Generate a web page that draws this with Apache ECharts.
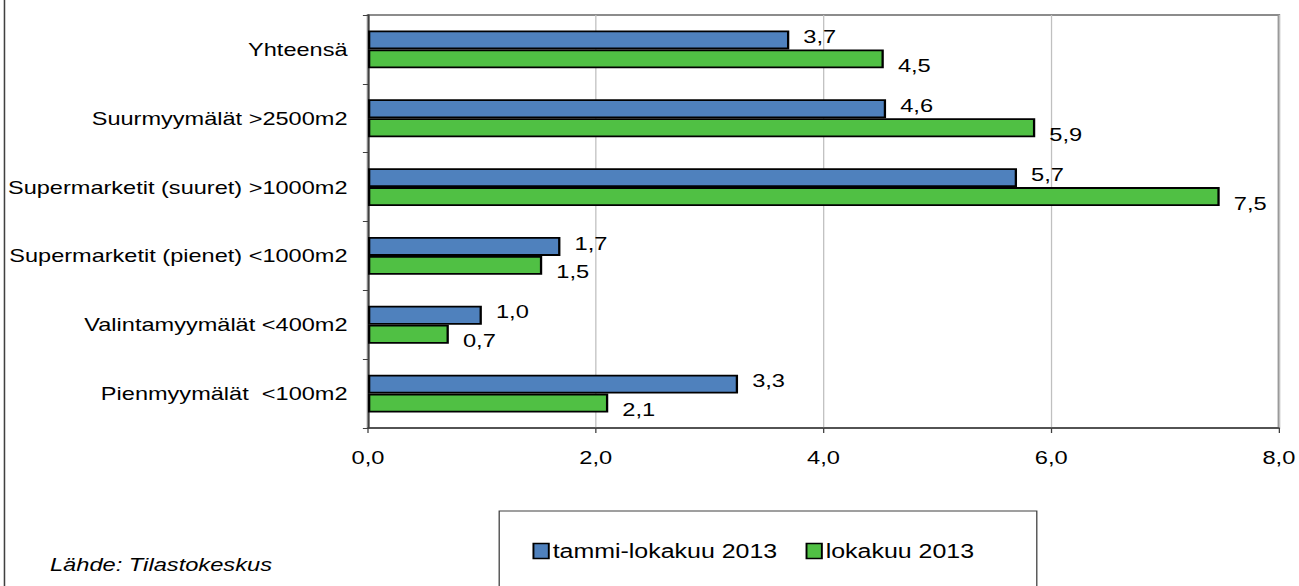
<!DOCTYPE html>
<html lang="fi">
<head>
<meta charset="UTF-8">
<title>Myymälät</title>
<style>
    html, body { margin: 0; padding: 0; background: #fff; overflow: hidden; }
    /* the source picture is stretched sideways, so the chart is drawn narrower and widened */
    #main {
        width: 1015px;
        height: 586px;
        transform: scaleX(1.28);
        transform-origin: 0 0;
    }
</style>
</head>
<body>
<div id="main"></div>
<script src="https://cdn.jsdelivr.net/npm/echarts@6/dist/echarts.min.js"></script>
<script>
    var categories = [
        'Yhteensä',
        'Suurmyymälät >2500m2',
        'Supermarketit (suuret) >1000m2',
        'Supermarketit (pienet) <1000m2',
        'Valintamyymälät <400m2',
        'Pienmyymälät  <100m2'
    ];
    var seriesNames = ['tammi-lokakuu 2013', 'lokakuu 2013'];
    var tammiLoka = [3.7, 4.55, 5.7, 1.69, 1.0, 3.25];
    var lokakuu = [4.53, 5.86, 7.48, 1.53, 0.71, 2.11];
    var xTicks = { min: 0, max: 8, interval: 2 };
    var source = 'Lähde: Tilastokeskus';

    var font = "'Liberation Sans', Arial, sans-serif";

    function fi(v) {
        return (Math.round(v * 10) / 10).toFixed(1).replace('.', ',');
    }

    function barSeries(name, values, color, offsetY) {
        return {
            name: name,
            type: 'bar',
            data: values,
            barGap: '0%',
            barCategoryGap: '45%',
            itemStyle: { color: color, borderColor: '#000', borderWidth: 1.8 },
            label: {
                show: true,
                position: 'right',
                distance: 11,
                offset: [0, offsetY],
                fontFamily: font,
                fontSize: 18.5,
                color: '#000',
                formatter: function (p) { return fi(p.value); }
            },
            emphasis: { disabled: true }
        };
    }

    var option = {
        animation: false,
        textStyle: { fontFamily: font },
        grid: {
            left: 287.5, right: 15, top: 15, bottom: 158,
            show: true,
            borderColor: '#8c8c8c',
            borderWidth: 2,
            containLabel: false
        },
        legend: {
            data: seriesNames,
            left: 416,
            top: 541,
            padding: 0,
            itemWidth: 12,
            itemHeight: 15,
            itemGap: 22,
            icon: 'rect',
            itemStyle: { borderColor: '#000', borderWidth: 1.5 },
            textStyle: { fontFamily: font, fontSize: 19.5, color: '#000', padding: [0, 0, 0, -2] }
        },
        xAxis: {
            type: 'value',
            min: xTicks.min,
            max: xTicks.max,
            interval: xTicks.interval,
            axisLine: { show: true, lineStyle: { color: '#404040', width: 1.5 } },
            axisTick: { show: true, length: 5, lineStyle: { color: '#404040' } },
            axisLabel: {
                fontSize: 18.5, color: '#000', margin: 20,
                formatter: function (v) { return v.toFixed(1).replace('.', ','); }
            },
            splitLine: { show: true, lineStyle: { color: '#c0c0c0', width: 1 } }
        },
        yAxis: {
            type: 'category',
            inverse: true,
            data: categories,
            axisLine: { show: true, lineStyle: { color: '#404040', width: 1.5 } },
            axisTick: { show: true, length: 4, lineStyle: { color: '#404040' } },
            axisLabel: { fontSize: 18.4, color: '#000', margin: 16 },
            splitLine: { show: false }
        },
        series: [
            barSeries(seriesNames[0], tammiLoka, '#4f81bd', -3),
            barSeries(seriesNames[1], lokakuu, '#50c044', 7)
        ],
        graphic: [
            {
                type: 'line',
                shape: { x1: 3.5, y1: 0, x2: 3.5, y2: 586 },
                style: { stroke: '#404040', lineWidth: 1.2 }
            },
            {
                type: 'rect',
                shape: { x: 390, y: 511, width: 420, height: 100 },
                style: { fill: 'none', stroke: '#404040', lineWidth: 1 },
                z: -1
            },
            {
                type: 'text',
                left: 39,
                top: 555,
                style: {
                    text: source,
                    fontFamily: font,
                    fontSize: 18.5,
                    fontStyle: 'italic',
                    fill: '#000'
                }
            }
        ]
    };

    var myChart = echarts.init(document.getElementById('main'), null, { renderer: 'svg' });
    myChart.setOption(option);
</script>
</body>
</html>
